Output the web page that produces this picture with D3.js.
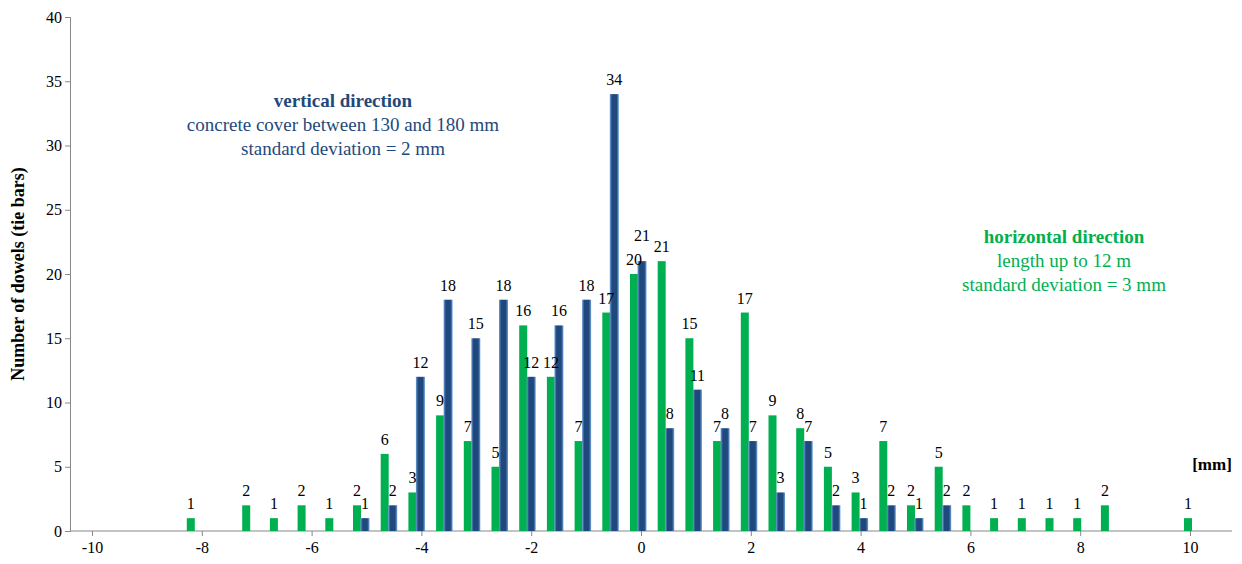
<!DOCTYPE html><html><head><meta charset="utf-8"><script src="https://cdn.jsdelivr.net/npm/d3@7"></script>
<style>body{margin:0;background:#fff}svg text{font-family:"Liberation Serif","Times New Roman","DejaVu Serif",serif !important}</style></head><body><svg id="c" width="1242" height="564"></svg><script>
const greenX=[-8,-7,-6.5,-6,-5.5,-5,-4.5,-4,-3.5,-3,-2.5,-2,-1.5,-1,-0.5,0,0.5,1,1.5,2,2.5,3,3.5,4,4.5,5,5.5,6,6.5,7,7.5,8,8.5,10];
const greenV=[1,2,1,2,1,2,6,3,9,7,5,16,12,7,17,20,21,15,7,17,9,8,5,3,7,2,5,2,1,1,1,1,2,1];
const blueX=[-5,-4.5,-4,-3.5,-3,-2.5,-2,-1.5,-1,-0.5,0,0.5,1,1.5,2,2.5,3,3.5,4,4.5,5,5.5];
const blueV=[1,2,12,18,15,18,12,16,18,34,21,8,11,8,7,3,7,2,1,2,1,2];
const xTicks=[-10,-8,-6,-4,-2,0,2,4,6,8,10];
const yTicks=[0,5,10,15,20,25,30,35,40];
const svg=d3.select("#c");
const x=d3.scaleLinear().domain([-10,10]).range([88,1196]);
const y=d3.scaleLinear().domain([0,40]).range([531,17]);
const defs=svg.append("defs");
const g=defs.append("linearGradient").attr("id","bg");
g.append("stop").attr("offset","0").attr("stop-color","#6f9fd8");
g.append("stop").attr("offset","0.25").attr("stop-color","#1f497d");
g.append("stop").attr("offset","0.75").attr("stop-color","#1f497d");
g.append("stop").attr("offset","1").attr("stop-color","#6f9fd8");
svg.append("g").attr("transform","translate(70,0)").call(d3.axisLeft(y).tickValues(yTicks).tickSize(5).tickFormat(d3.format("d")))
 .call(a=>{a.select(".domain").attr("stroke","#888");a.selectAll("line").attr("stroke","#888");a.selectAll("text").attr("font-size",16).attr("fill","#000")});
svg.append("line").attr("x1",70).attr("x2",1232).attr("y1",531).attr("y2",531).attr("stroke","#888");
const xl=d3.scaleLinear().domain([-10,10]).range([92,1190]);
svg.append("g").attr("transform","translate(0,531)").call(d3.axisBottom(xl).tickValues(xTicks).tickSize(5).tickFormat(d=>d<0?"-"+(-d):d))
 .call(a=>{a.select(".domain").remove();a.selectAll("line").attr("stroke","#888");a.selectAll("text").attr("font-size",16).attr("fill","#000").attr("dy","0.9em")});
const gOff=-8, bw=8;
const gd=greenX.map((v,i)=>({x:v,v:greenV[i]})), bd=blueX.map((v,i)=>({x:v,v:blueV[i]}));
svg.selectAll(".g").data(gd).join("rect").attr("x",d=>x(d.x)+gOff-bw/2).attr("width",bw).attr("y",d=>y(d.v)).attr("height",d=>531-y(d.v)).attr("fill","#00b050");
svg.selectAll(".b").data(bd).join("rect").attr("x",d=>x(d.x)-4.5).attr("width",9).attr("y",d=>y(d.v)).attr("height",d=>531-y(d.v)).attr("fill","url(#bg)");
svg.selectAll(".gl").data(gd).join("text").attr("x",d=>x(d.x)+gOff).attr("y",d=>y(d.v)-9).attr("text-anchor","middle").attr("font-size",16).text(d=>d.v);
svg.selectAll(".bl").data(bd).join("text").attr("x",d=>x(d.x)).attr("y",d=>y(d.v)-(d.x===0?20:9)).attr("text-anchor","middle").attr("font-size",16).text(d=>d.v);
svg.append("text").attr("transform","translate(24,274) rotate(-90)").attr("text-anchor","middle").attr("font-size",18).attr("font-weight","bold").text("Number of dowels (tie bars)");
svg.append("text").attr("x",1212).attr("y",470).attr("text-anchor","middle").attr("font-size",17).attr("font-weight","bold").text("[mm]");
const vt=[["vertical direction",true],["concrete cover between 130 and 180 mm",false],["standard deviation = 2 mm",false]];
vt.forEach((t,i)=>svg.append("text").attr("x",343).attr("y",107+i*24).attr("text-anchor","middle").attr("font-size",19).attr("font-weight",t[1]?"bold":"normal").attr("fill","#1f497d").text(t[0]));
const ht=[["horizontal direction",true],["length up to 12 m",false],["standard deviation = 3 mm",false]];
ht.forEach((t,i)=>svg.append("text").attr("x",1064).attr("y",243+i*24).attr("text-anchor","middle").attr("font-size",19).attr("font-weight",t[1]?"bold":"normal").attr("fill","#00b050").text(t[0]));
</script></body></html>
